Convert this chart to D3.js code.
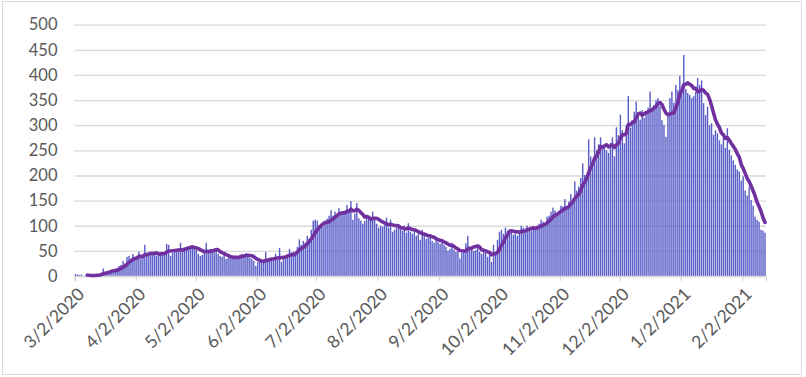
<!DOCTYPE html>
<html>
<head>
<meta charset="utf-8">
<script src="https://cdn.jsdelivr.net/npm/d3@7"></script>
<style>
  html, body { margin: 0; padding: 0; background: #fff; }
  svg { display: block; font-family: Lato, "Open Sans", sans-serif; }
</style>
</head>
<body>
<div id="chart"></div>
<script>
// daily values, one array per month (first day 3/2/2020)
const startDate = "3/2/2020";
const mar20 = [4,3,2,3,0,1,0,1,1,2,2,3,4,5,15,7,9,10,12,13,12,16,20,22,30,25,38,40,34,44];
const apr20 = [34,36,48,40,36,62,40,44,45,47,44,40,43,45,46,48,64,62,40,46,48,50,52,66,56,54,55,57,58,60];
const may20 = [56,52,44,40,42,46,66,52,54,50,48,52,44,40,38,42,34,36,38,35,37,40,38,42,44,41,45,40,36,34,30];
const jun20 = [20,28,30,32,30,48,30,32,34,30,44,32,56,28,36,40,42,54,46,48,44,58,73,62,70,66,80,74,92,110];
const jul20 = [112,110,100,104,98,110,114,120,131,120,128,118,135,122,126,130,141,128,149,112,124,145,115,110,104,110,120,114,116,128,112];
const aug20 = [104,96,100,98,102,116,96,112,88,92,96,98,94,90,100,86,105,88,84,90,80,84,72,92,82,74,76,80,70,66,72];
const sep20 = [68,64,72,62,58,50,54,66,52,48,50,35,46,52,65,80,58,54,50,52,60,48,44,50,46,38,42,28,62,44];
const oct20 = [72,88,92,84,96,90,93,86,82,88,80,90,100,96,92,100,94,90,98,96,100,104,112,108,102,118,120,128,136,130,124];
const nov20 = [122,140,138,153,140,148,163,150,188,170,178,195,224,201,200,272,238,230,276,250,262,276,261,255,250,245,265,276,238,296];
const dec20 = [280,321,290,264,300,358,295,310,327,347,320,311,330,315,325,335,367,330,340,350,354,338,310,301,277,320,354,367,345,380,370];
const jan21 = [398,365,440,372,364,360,354,358,366,394,380,389,344,320,337,300,304,281,290,284,270,262,274,255,294,251,240,230,221,212,208];
const feb21 = [190,198,170,160,178,151,140,118,112,108,92,90,86];

const yTicks = [0, 50, 100, 150, 200, 250, 300, 350, 400, 450, 500];
const tickLabels = ["3/2/2020","4/2/2020","5/2/2020","6/2/2020","7/2/2020","8/2/2020",
  "9/2/2020","10/2/2020","11/2/2020","12/2/2020","1/2/2021","2/2/2021"];
const maPeriod = 7;

const values = [].concat(mar20, apr20, may20, jun20, jul20, aug20, sep20, oct20, nov20, dec20, jan21, feb21);
const parse = d3.utcParse("%m/%d/%Y");
const day0 = parse(startDate);
const data = values.map((v, i) => ({ date: d3.utcDay.offset(day0, i), value: v }));

// trailing moving average, like the spreadsheet trendline
const avg = data.slice(maPeriod - 1).map((d, k) => ({
  date: d.date,
  value: d3.mean(values.slice(k, k + maPeriod)),
}));

const width = 806, height = 377;
const margin = { top: 24.7, right: 40, bottom: 101, left: 74.5 };

const svg = d3.select("#chart").append("svg").attr("width", width).attr("height", height);

svg.append("rect").attr("x", 2.5).attr("y", 1.5).attr("width", 799).attr("height", 373)
  .attr("fill", "#fff").attr("stroke", "#d9d9d9").attr("stroke-width", 1);

const x = d3.scaleUtc()
  .domain([day0, d3.utcDay.offset(day0, values.length)])
  .range([margin.left, width - margin.right]);
const y = d3.scaleLinear().domain([0, 500]).range([height - margin.bottom, margin.top]);
const band = x(d3.utcDay.offset(day0, 1)) - x(day0);

// gridlines
const grid = svg.append("g").attr("transform", `translate(${margin.left},0)`)
  .call(d3.axisLeft(y).tickValues(yTicks).tickSize(-(width - margin.right - margin.left)).tickFormat(""));
grid.select(".domain").remove();
grid.selectAll("line").attr("stroke", "#d9d9d9").attr("stroke-width", 1.3);

// y labels
const yAxis = svg.append("g").attr("transform", `translate(${margin.left},0)`)
  .call(d3.axisLeft(y).tickValues(yTicks).tickSize(0).tickPadding(17));
yAxis.select(".domain").remove();
yAxis.selectAll("text").attr("fill", "#595959").attr("font-size", 16.5).attr("font-family", "Lato");

// bars
svg.append("g").selectAll("rect").data(data).join("rect")
  .attr("x", (d) => x(d.date) + band * 0.14)
  .attr("width", band * 0.72)
  .attr("y", (d) => y(d.value))
  .attr("height", (d) => y(0) - y(d.value))
  .attr("fill", "#5a5fc8");

// x axis
const xAxis = svg.append("g").attr("transform", `translate(0,${y(0)})`)
  .call(d3.axisBottom(x).tickValues(tickLabels.map(parse)).tickSizeOuter(0).tickSize(5)
    .tickFormat((d, i) => tickLabels[i]));
xAxis.select(".domain").attr("stroke", "#d9d9d9").attr("stroke-width", 1.3);
xAxis.selectAll(".tick line").attr("stroke", "#d9d9d9").attr("stroke-width", 1.3);
xAxis.selectAll(".tick text")
  .attr("fill", "#595959").attr("font-size", 17.5).attr("font-family", "Lato")
  .attr("text-anchor", "end").attr("dy", "0.35em")
  .attr("transform", "translate(6,15) rotate(-45)")
  .attr("x", 0).attr("y", 0);

// moving average line
const line = d3.line().x((d) => x(d.date) + band / 2).y((d) => y(d.value));
svg.append("path").datum(avg)
  .attr("fill", "none").attr("stroke", "#7030a0").attr("stroke-width", 3.6)
  .attr("stroke-linejoin", "round").attr("stroke-linecap", "round")
  .attr("d", line);
</script>
</body>
</html>
